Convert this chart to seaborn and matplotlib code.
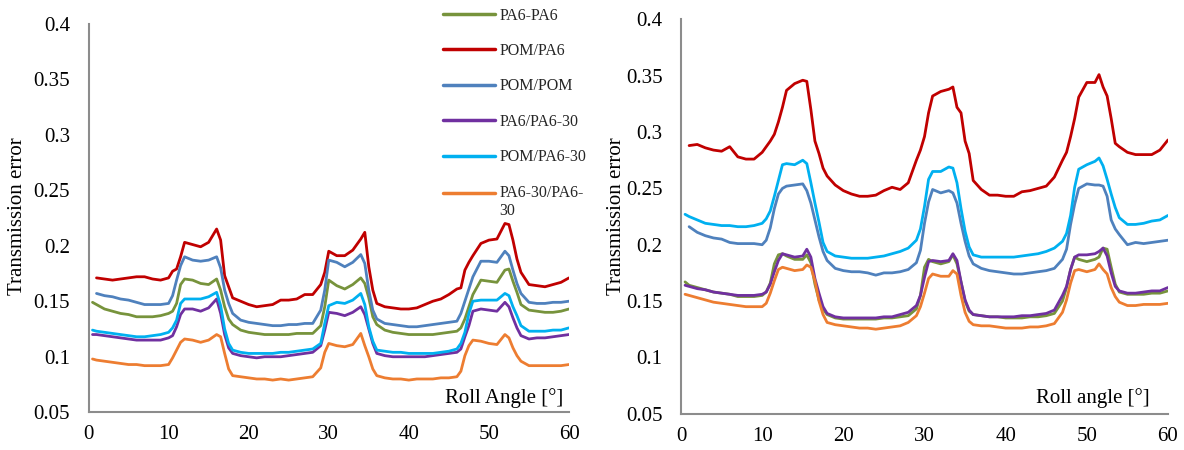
import numpy as np
import pandas as pd
import matplotlib
matplotlib.use("Agg")
import matplotlib.pyplot as plt
from matplotlib.ticker import FuncFormatter
import seaborn as sns

nan = np.nan

SERIES = ["PA6-PA6", "POM/PA6", "POM/POM", "PA6/PA6-30", "POM/PA6-30", "PA6-30/PA6-30"]
LEGEND_LABELS = ["PA6-PA6", "POM/PA6", "POM/POM", "PA6/PA6-30", "POM/PA6-30", "PA6-30/PA6-\n30"]
COLORS = ["#77933C", "#C00000", "#4F81BD", "#7030A0", "#00B0F0", "#ED7D31"]
X_TICKS = [0, 10, 20, 30, 40, 50, 60]
Y_TICKS = [0.05, 0.1, 0.15, 0.2, 0.25, 0.3, 0.35, 0.4]
XLABEL_LEFT = "Roll Angle [°]"
XLABEL_RIGHT = "Roll angle [°]"
YLABEL = "Transmission error"

# ---------------- left panel ----------------
ANGLE_L = [0.5, 1, 2, 3, 4, 5, 6, 7, 8, 9, 10, 10.5, 11, 11.5, 12, 13, 14, 15, 16,
           16.5, 17, 17.5, 18, 19, 20, 21, 22, 23, 24, 25, 26, 27, 28, 29, 29.5,
           30, 31, 32, 33, 34, 34.5, 35, 35.5, 36, 37, 38, 39, 40, 41, 42, 43, 44,
           45, 46, 46.5, 47, 47.5, 48, 49, 50, 51, 52, 52.5, 53, 53.5, 54, 55, 56,
           57, 58, 59, 60]

L_PA6_PA6 = [0.149, 0.147, 0.143, 0.141, 0.139, 0.138, 0.136, 0.136, 0.136, 0.137, 0.139,
             0.141, 0.148, 0.165, 0.170, 0.169, 0.166, 0.165, 0.170,
             0.160, 0.145, 0.134, 0.129, 0.124, 0.122, 0.121, 0.120, 0.120, 0.120, 0.120,
             0.121, 0.121, 0.121, 0.128, 0.145,
             0.169, 0.164, 0.161, 0.165, 0.171, 0.166, 0.153, 0.136, 0.129, 0.124, 0.122,
             0.121, 0.120, 0.120, 0.120, 0.120, 0.121, 0.122, 0.123, 0.126, 0.134, 0.145,
             0.156, 0.169, 0.168, 0.167, 0.178, 0.179, 0.168, 0.158, 0.147, 0.142, 0.141,
             0.140, 0.140, 0.141, 0.143]
L_POM_PA6 = [nan, 0.171, 0.170, 0.169, 0.170, 0.171, 0.172, 0.172, 0.170, 0.169, 0.171,
             0.177, 0.179, 0.190, 0.203, 0.201, 0.199, 0.203, 0.215,
             0.205, 0.173, 0.163, 0.153, 0.150, 0.147, 0.145, 0.146, 0.147, 0.151, 0.151,
             0.152, 0.156, 0.156, 0.165, 0.176,
             0.195, 0.191, 0.191, 0.196, 0.206, 0.212, 0.181, 0.160, 0.148, 0.145, 0.144,
             0.143, 0.143, 0.144, 0.147, 0.150, 0.152, 0.156, 0.161, 0.162, 0.178, 0.185,
             0.191, 0.202, 0.205, 0.206, 0.220, 0.219, 0.205, 0.188, 0.176, 0.165, 0.164,
             0.163, 0.165, 0.167, 0.171]
L_POM_POM = [nan, 0.157, 0.155, 0.154, 0.152, 0.151, 0.149, 0.147, 0.147, 0.147, 0.148,
             0.155, 0.169, 0.182, 0.190, 0.187, 0.186, 0.187, 0.190,
             0.180, 0.160, 0.148, 0.139, 0.133, 0.131, 0.130, 0.129, 0.128, 0.128, 0.129,
             0.129, 0.130, 0.130, 0.142, 0.160,
             0.187, 0.185, 0.181, 0.185, 0.192, 0.184, 0.160, 0.142, 0.134, 0.130, 0.129,
             0.128, 0.127, 0.127, 0.128, 0.129, 0.130, 0.131, 0.132, 0.139, 0.150, 0.161,
             0.172, 0.186, 0.186, 0.185, 0.195, 0.191, 0.178, 0.166, 0.157, 0.149, 0.148,
             0.148, 0.149, 0.149, 0.150]
L_PA6_PA630 = [0.120, 0.120, 0.119, 0.118, 0.117, 0.116, 0.115, 0.115, 0.115, 0.115, 0.117,
               0.119, 0.127, 0.138, 0.143, 0.143, 0.141, 0.144, 0.152,
               0.139, 0.120, 0.108, 0.103, 0.101, 0.100, 0.099, 0.100, 0.100, 0.100, 0.101,
               0.102, 0.103, 0.104, 0.110, 0.124,
               0.140, 0.139, 0.137, 0.140, 0.145, 0.138, 0.125, 0.112, 0.103, 0.101, 0.100,
               0.100, 0.100, 0.100, 0.100, 0.101, 0.102, 0.103, 0.104, 0.107, 0.118, 0.128,
               0.141, 0.143, 0.142, 0.141, 0.149, 0.145, 0.135, 0.126, 0.119, 0.116, 0.117,
               0.117, 0.118, 0.119, 0.120]
L_POM_PA630 = [0.124, 0.123, 0.122, 0.121, 0.120, 0.119, 0.118, 0.118, 0.119, 0.120, 0.122,
               0.126, 0.133, 0.148, 0.152, 0.152, 0.152, 0.154, 0.158,
               0.146, 0.125, 0.112, 0.106, 0.104, 0.103, 0.103, 0.103, 0.103, 0.104, 0.104,
               0.105, 0.106, 0.107, 0.112, 0.130,
               0.146, 0.149, 0.148, 0.151, 0.157, 0.147, 0.127, 0.114, 0.106, 0.105, 0.104,
               0.104, 0.103, 0.103, 0.103, 0.103, 0.104, 0.105, 0.107, 0.112, 0.122, 0.139,
               0.150, 0.151, 0.151, 0.151, 0.157, 0.155, 0.145, 0.137, 0.128, 0.123, 0.123,
               0.123, 0.124, 0.124, 0.126]
L_PA630_PA630 = [0.098, 0.097, 0.096, 0.095, 0.094, 0.093, 0.093, 0.092, 0.092, 0.092, 0.093,
                 0.099, 0.106, 0.113, 0.116, 0.115, 0.113, 0.115, 0.120,
                 0.118, 0.103, 0.089, 0.083, 0.082, 0.081, 0.080, 0.080, 0.079, 0.080, 0.079,
                 0.080, 0.081, 0.082, 0.090, 0.104,
                 0.112, 0.110, 0.109, 0.111, 0.121, 0.110, 0.100, 0.089, 0.083, 0.081, 0.080,
                 0.080, 0.079, 0.080, 0.080, 0.080, 0.081, 0.081, 0.082, 0.087, 0.101, 0.110,
                 0.115, 0.114, 0.112, 0.111, 0.120, 0.117, 0.108, 0.101, 0.096, 0.092, 0.092,
                 0.092, 0.092, 0.092, 0.093]

# ---------------- right panel ----------------
ANGLE_R = [0.5, 1, 2, 3, 4, 5, 6, 7, 8, 9, 10, 10.5, 11, 11.5, 12, 12.5, 13, 14, 15,
           15.5, 16, 16.5, 17, 17.5, 18, 19, 20, 21, 22, 23, 24, 25, 26, 27, 28, 29,
           29.5, 30, 30.5, 31, 32, 33, 33.5, 34, 34.5, 35, 35.5, 36, 37, 38, 39, 40,
           41, 42, 43, 44, 45, 46, 47, 47.5, 48, 48.5, 49, 50, 51, 51.5, 52, 52.5, 53,
           53.5, 54, 55, 56, 57, 58, 59, 60]

R_PA6_PA6 = [0.167, 0.164, 0.162, 0.160, 0.158, 0.157, 0.156, 0.154, 0.154, 0.154, 0.155,
             0.158, 0.166, 0.183, 0.191, 0.192, 0.190, 0.187, 0.187,
             0.191, 0.184, 0.165, 0.151, 0.143, 0.138, 0.135, 0.134, 0.134, 0.134, 0.134,
             0.134, 0.135, 0.135, 0.136, 0.137, 0.143,
             0.155, 0.180, 0.187, 0.185, 0.183, 0.185, 0.191, 0.183, 0.167, 0.150, 0.141,
             0.138, 0.137, 0.136, 0.136, 0.135, 0.135, 0.135, 0.136, 0.136, 0.137, 0.139,
             0.150, 0.162, 0.178, 0.189, 0.187, 0.185, 0.187, 0.189, 0.197, 0.196, 0.180,
             0.165, 0.158, 0.156, 0.156, 0.156, 0.157, 0.157, 0.159]
R_POM_PA6 = [nan, 0.288, 0.289, 0.286, 0.284, 0.283, 0.287, 0.278, 0.276, 0.276, 0.282,
             0.287, 0.292, 0.298, 0.309, 0.322, 0.337, 0.343, 0.346,
             0.345, 0.320, 0.292, 0.281, 0.268, 0.261, 0.253, 0.248, 0.245, 0.243, 0.243,
             0.244, 0.248, 0.251, 0.249, 0.255, 0.275,
             0.284, 0.296, 0.317, 0.332, 0.336, 0.338, 0.340, 0.322, 0.317, 0.292, 0.281,
             0.257, 0.249, 0.244, 0.244, 0.243, 0.243, 0.247, 0.248, 0.250, 0.252, 0.260,
             0.275, 0.282, 0.296, 0.312, 0.331, 0.344, 0.344, 0.351, 0.340, 0.332, 0.312,
             0.290, 0.287, 0.282, 0.280, 0.280, 0.280, 0.284, 0.293]
R_POM_POM = [nan, 0.216, 0.211, 0.208, 0.206, 0.205, 0.202, 0.201, 0.201, 0.201, 0.200,
             0.204, 0.215, 0.232, 0.245, 0.250, 0.252, 0.253, 0.254,
             0.248, 0.237, 0.222, 0.207, 0.194, 0.186, 0.179, 0.177, 0.176, 0.176, 0.175,
             0.173, 0.175, 0.175, 0.176, 0.178, 0.184,
             0.195, 0.219, 0.238, 0.249, 0.246, 0.248, 0.246, 0.237, 0.219, 0.203, 0.190,
             0.183, 0.179, 0.177, 0.176, 0.175, 0.174, 0.174, 0.175, 0.176, 0.177, 0.179,
             0.187, 0.196, 0.218, 0.236, 0.250, 0.254, 0.253, 0.253, 0.252, 0.243, 0.222,
             0.214, 0.209, 0.200, 0.202, 0.201, 0.202, 0.203, 0.204]
R_PA6_PA630 = [0.164, 0.163, 0.161, 0.160, 0.158, 0.157, 0.156, 0.155, 0.155, 0.155, 0.156,
               0.158, 0.165, 0.176, 0.186, 0.192, 0.191, 0.189, 0.190,
               0.196, 0.189, 0.170, 0.157, 0.145, 0.139, 0.136, 0.135, 0.135, 0.135, 0.135,
               0.135, 0.136, 0.136, 0.138, 0.140, 0.146,
               0.155, 0.171, 0.185, 0.186, 0.185, 0.186, 0.192, 0.186, 0.167, 0.151, 0.142,
               0.138, 0.137, 0.136, 0.136, 0.136, 0.136, 0.137, 0.137, 0.138, 0.139, 0.142,
               0.155, 0.163, 0.178, 0.189, 0.191, 0.191, 0.192, 0.194, 0.197, 0.190, 0.175,
               0.163, 0.159, 0.157, 0.157, 0.158, 0.159, 0.159, 0.162]
R_POM_PA630 = [0.227, 0.225, 0.222, 0.219, 0.218, 0.217, 0.217, 0.216, 0.216, 0.217, 0.219,
               0.223, 0.230, 0.243, 0.257, 0.271, 0.272, 0.271, 0.275,
               0.272, 0.255, 0.237, 0.220, 0.202, 0.194, 0.190, 0.189, 0.188, 0.188, 0.188,
               0.189, 0.190, 0.192, 0.194, 0.197, 0.204,
               0.214, 0.234, 0.258, 0.265, 0.265, 0.269, 0.268, 0.255, 0.232, 0.212, 0.198,
               0.191, 0.189, 0.189, 0.189, 0.189, 0.189, 0.190, 0.191, 0.192, 0.194, 0.197,
               0.203, 0.210, 0.226, 0.251, 0.267, 0.271, 0.274, 0.277, 0.270, 0.258, 0.245,
               0.233, 0.224, 0.218, 0.218, 0.219, 0.221, 0.222, 0.226]
R_PA630_PA630 = [0.156, 0.155, 0.153, 0.151, 0.149, 0.148, 0.147, 0.146, 0.145, 0.145, 0.145,
                 0.148, 0.157, 0.168, 0.178, 0.180, 0.179, 0.177, 0.178,
                 0.182, 0.180, 0.168, 0.150, 0.138, 0.131, 0.129, 0.128, 0.127, 0.126, 0.126,
                 0.125, 0.126, 0.127, 0.128, 0.131, 0.137,
                 0.145, 0.157, 0.170, 0.174, 0.172, 0.172, 0.177, 0.174, 0.155, 0.140, 0.132,
                 0.129, 0.128, 0.128, 0.127, 0.126, 0.126, 0.126, 0.127, 0.127, 0.128, 0.130,
                 0.140, 0.151, 0.166, 0.177, 0.178, 0.176, 0.178, 0.183, 0.178, 0.174, 0.162,
                 0.154, 0.149, 0.146, 0.146, 0.147, 0.147, 0.147, 0.148]

LEFT_VALUES = [L_PA6_PA6, L_POM_PA6, L_POM_POM, L_PA6_PA630, L_POM_PA630, L_PA630_PA630]
RIGHT_VALUES = [R_PA6_PA6, R_POM_PA6, R_POM_POM, R_PA6_PA630, R_POM_PA630, R_PA630_PA630]


def long_frame(angles, values):
    frames = []
    for name, vals in zip(SERIES, values):
        frames.append(pd.DataFrame({"angle": angles, "te": vals, "pair": name}))
    return pd.concat(frames, ignore_index=True).dropna()


df_left = long_frame(ANGLE_L, LEFT_VALUES)
df_right = long_frame(ANGLE_R, RIGHT_VALUES)

sns.set_style("white")
plt.rcParams["font.family"] = ["Liberation Serif", "DejaVu Serif"]

W, H = 1184, 450
fig = plt.figure(figsize=(W / 100, H / 100), dpi=100)
ax_l = fig.add_axes([88.5 / W, 1 - 412.3 / H, (569 - 88.5) / W, (412.3 - 23.5) / H])
ax_r = fig.add_axes([681 / W, 1 - 413.7 / H, (1168 - 681) / W, (413.7 - 19.4) / H])

palette = dict(zip(SERIES, COLORS))
GRAY = "#8C8C8C"

for ax, df, xlabel, xl_pos in [
    (ax_l, df_left, XLABEL_LEFT, (0.9875, 0.024)),
    (ax_r, df_right, XLABEL_RIGHT, (0.963, 0.027)),
]:
    sns.lineplot(data=df, x="angle", y="te", hue="pair", hue_order=SERIES,
                 palette=palette, estimator=None, errorbar=None, linewidth=2.0,
                 ax=ax, legend=(ax is ax_l))
    ax.set_xlim(0, 60)
    ax.set_ylim(0.05, 0.4)
    ax.set_xticks(X_TICKS)
    ax.set_yticks(Y_TICKS)
    ax.yaxis.set_major_formatter(FuncFormatter(lambda v, p: f"{v:g}"))
    for side in ["top", "right"]:
        ax.spines[side].set_visible(False)
    for side in ["left", "bottom"]:
        ax.spines[side].set_color(GRAY)
        ax.spines[side].set_linewidth(1.5)
    ax.tick_params(axis="both", direction="inout", length=9.6, width=1.5,
                   color=GRAY, labelsize=15, labelcolor="black")
    ax.tick_params(axis="y", pad=8.5)
    ax.tick_params(axis="x", pad=4.5)
    ax.set_xlabel(xlabel, fontsize=15, color="black")
    ax.xaxis.set_label_coords(*xl_pos)
    ax.xaxis.label.set_horizontalalignment("right")
    ax.xaxis.label.set_verticalalignment("baseline")
    ax.set_ylabel(YLABEL, fontsize=15, color="black")
    ax.yaxis.label.set_verticalalignment("center")
    ax.yaxis.label.set_horizontalalignment("center")
    ax.patch.set_alpha(0)

ax_l.yaxis.set_label_coords((17.5 - 88.5) / (569 - 88.5), 0.505)
ax_r.yaxis.set_label_coords((616 - 681) / (1168 - 681), 0.501)

handles, labels = ax_l.get_legend_handles_labels()
ax_l.get_legend().remove()
leg = fig.legend(handles, LEGEND_LABELS, loc="upper left",
                 bbox_to_anchor=(443 / W, 1 - 7.5 / H), bbox_transform=fig.transFigure,
                 frameon=False, fontsize=11.5, handlelength=3.25, handletextpad=0.3,
                 labelspacing=1.22, borderpad=0, borderaxespad=0)
for h in leg.legend_handles:
    h.set_linewidth(2.5)
# align the handle of the two-line label with its first line
last = leg.legend_handles[-1]
last.set_ydata(np.asarray(last.get_ydata(), dtype=float) + 0.6 * 11.5)

fig.savefig("out.png", dpi=100)
